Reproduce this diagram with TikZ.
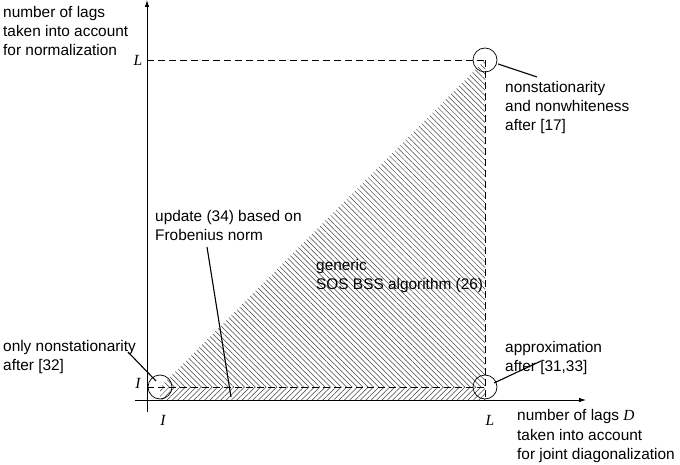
\documentclass[tikz,border=0pt]{standalone}
\usepackage{fontspec}
\setmainfont{Liberation Sans}
\newfontfamily\serifit{Liberation Serif}
\usetikzlibrary{arrows.meta,patterns.meta}
\begin{document}
\begin{tikzpicture}[x=1pt,y=-1pt,
  lbl/.style={font=\fontsize{15.4}{19.2}\selectfont, align=left, inner sep=0pt, anchor=north west},
  mlbl/.style={font=\fontsize{15.5}{15.5}\selectfont\serifit\itshape, inner sep=0pt},
  axis/.style={line width=0.8pt, -{Latex[length=7pt,width=4.5pt]}},
  dashline/.style={line width=0.6pt, dash pattern=on 7pt off 4pt},
  circ/.style={circle, draw, line width=0.7pt, minimum size=24pt, inner sep=0pt},
  leader/.style={line width=1.1pt},
  hatchA/.style={pattern={Lines[angle=-45,distance=3.8pt,line width=0.5pt]}, pattern color=black!75},
  hatchB/.style={pattern={Lines[angle=45,distance=3.8pt,line width=0.5pt]}, pattern color=black!75}
]
\useasboundingbox (0,0) rectangle (680,465);
% key points
\coordinate (P11) at (160,387);
\coordinate (PLL) at (485,60);
\coordinate (PL1) at (485,387);
\coordinate (XL) at (485,400);
\coordinate (X1) at (160,400);
\coordinate (YL) at (147,60);
\coordinate (Y1) at (147,387);
% hatching
\fill[hatchA] (P11) -- (PLL) -- (PL1) -- cycle;
\fill[hatchB] (P11) -- (PL1) -- (XL) -- (X1) -- cycle;
% axes
\coordinate (ybot) at (147,412);
\coordinate (ytop) at (147,0);
\coordinate (xleft) at (135,400);
\coordinate (xright) at (586,400);
\draw[axis] (ybot) -- (ytop);
\draw[axis] (xleft) -- (xright);
% dashed guides
\draw[dashline] (YL) -- (PLL);
\draw[dashline] (PLL) -- (XL);
\draw[dashline] (Y1) -- (PL1);
% circles
\node[circ] (c11) at (P11) {};
\node[circ] (cLL) at (PLL) {};
\node[circ] (cL1) at (PL1) {};
% tick labels
\node[mlbl] (tyL) at (138,60) {L};
\node[mlbl] (ty1) at (138,383) {I};
\node[mlbl] (tx1) at (163,420) {I};
\node[mlbl] (txL) at (490,420) {L};
% labels
\node[lbl] (ylab) at (3,6) {number of lags\\taken into account\\for normalization};
\node[lbl, font=\fontsize{15.4}{19.8}\selectfont] (xlab) at (517,409) {number of lags {\serifit\itshape D}\\taken into account\\for joint diagonalization};
\node[lbl] (nsnw) at (505,81) {nonstationarity\\and nonwhiteness\\after [17]};
\node[lbl] (gen) at (316,259) {generic\\SOS BSS algorithm (26)};
\node[lbl] (upd) at (155,210) {update (34) based on\\Frobenius norm};
\node[lbl] (ons) at (3,340) {only nonstationarity\\after [32]};
\node[lbl] (apx) at (505,341) {approximation\\after [31,33]};
% leader lines
\coordinate (a1) at (498,64);
\coordinate (a2) at (537,77);
\draw[leader] (a1) -- (a2);
\coordinate (b1) at (494,383);
\coordinate (b2) at (541,361);
\draw[leader] (b1) -- (b2);
\coordinate (d1) at (207,247);
\coordinate (d2) at (231,397);
\draw[leader] (d1) -- (d2);
\coordinate (e1) at (128,352);
\coordinate (e2) at (156,381);
\draw[leader] (e1) -- (e2);
\end{tikzpicture}
\end{document}
